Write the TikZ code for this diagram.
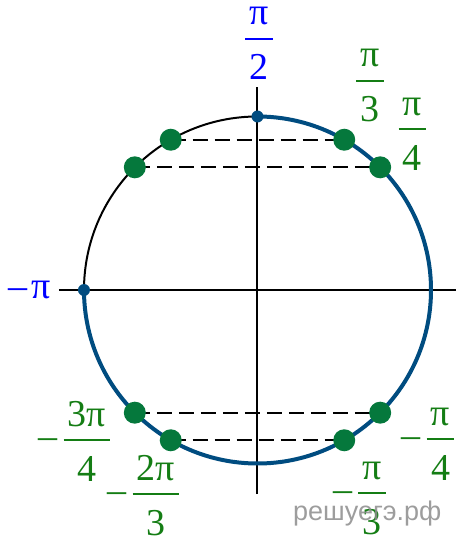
\documentclass[tikz,border=0pt]{standalone}
\usepackage{fontspec}
\setmainfont{Liberation Serif}
\newfontfamily\wmfont{Liberation Sans}
\usetikzlibrary{calc}
\definecolor{arcblue}{RGB}{0,76,128}
\definecolor{dotgreen}{RGB}{5,120,60}
\definecolor{labgreen}{RGB}{20,125,20}
\def\fraclab[#1](#2)(#3)#4#5{%
	\node[lab, text=#1] (#2n) at ($(#3)+(0,14)$) {#4};
	\node[lab, text=#1] (#2d) at ($(#3)+(0,-41)$) {#5};
	\draw[#1, line width=1.8pt] let \p1=($(#2n.east)-(#2n.west)$), \p2=($(#2d.east)-(#2d.west)$),
		\n1={max(\x1,\x2)/2+4} in ($(#3)-(\n1,0)$) coordinate (#2l) -- ($(#3)+(\n1,0)$) coordinate (#2r);}
\def\minuslab[#1](#2)(#3){\node[lab, text=#1, anchor=base east] (#2) at ($(#3)+(-6,-8.2)$) {–};}

\begin{document}
\begin{tikzpicture}[x=1pt, y=1pt,
		lab/.style={inner sep=0, anchor=base, font=\fontsize{38}{44}\selectfont},
		axisline/.style={line width=2pt, color=black},
		hline/.style={line width=2pt, dash pattern=on 15pt off 7pt},
		gdot/.style={fill=dotgreen},
		bdot/.style={fill=arcblue}]
			%%%%% START %%%%%
			\useasboundingbox (-257.5, -254) rectangle (205.5, 290);
			\def\R{173.5}
			
			\coordinate (o) at (0, 0);
			\coordinate (top) at (90:\R);
			\coordinate (left) at (180:\R);
			\foreach \a in {60, 45, 120, 135, -60, -45, -120, -135}
				\coordinate (p\a) at (\a:\R);
			
			% axes
			\draw[axisline] (-198.5, 0) -- (198.5, 0);
			\draw[axisline] (0, -204) -- (0, 203);
			
			% circle
			\draw[line width=2pt] (top) arc[start angle=90, end angle=180, radius=\R];
			\draw[line width=4pt, color=arcblue] (top) arc[start angle=90, end angle=-180, radius=\R];
			
			% dashed levels
			\draw[hline] (p120) -- (p60);
			\draw[hline] (p135) -- (p45);
			\draw[hline] (p-135) -- (p-45);
			\draw[hline] (p-120) -- (p-60);
			
			\foreach \a in {60, 45, 120, 135, -60, -45, -120, -135}
				\fill[gdot] (p\a) circle (11);
			\fill[bdot] (top) circle (6);
			\fill[bdot] (left) circle (6);
			
			% labels
			\fraclab[blue](pi2)(1.5, 251){π}{2}
			\node[lab, text=blue] (mpi) at (-227.5, -8.2) {–\kern4ptπ};
			\fraclab[labgreen](pi3)(112.5, 209){π}{3}
			\fraclab[labgreen](pi4)(155, 161){π}{4}
			
			\fraclab[labgreen](mtpi4)(-170.5, -150){3π}{4}
			\minuslab[labgreen](mtpi4m)(mtpi4l)
			\fraclab[labgreen](mtpi3)(-101.5, -204){2π}{3}
			\minuslab[labgreen](mtpi3m)(mtpi3l)
			\fraclab[labgreen](mpi4)(183, -149){π}{4}
			\minuslab[labgreen](mpi4m)(mpi4l)
			\fraclab[labgreen](mpi3)(114.5, -203){π}{3}
			\minuslab[labgreen](mpi3m)(mpi3l)
			
			\node[anchor=base west, inner sep=0, text=black!45, text opacity=0.85,
				font=\wmfont\fontsize{27}{30}\selectfont] (mark) at (35.5, -230) {решуегэ.рф};
			%%%%% END %%%%%
\end{tikzpicture}
\end{document}
